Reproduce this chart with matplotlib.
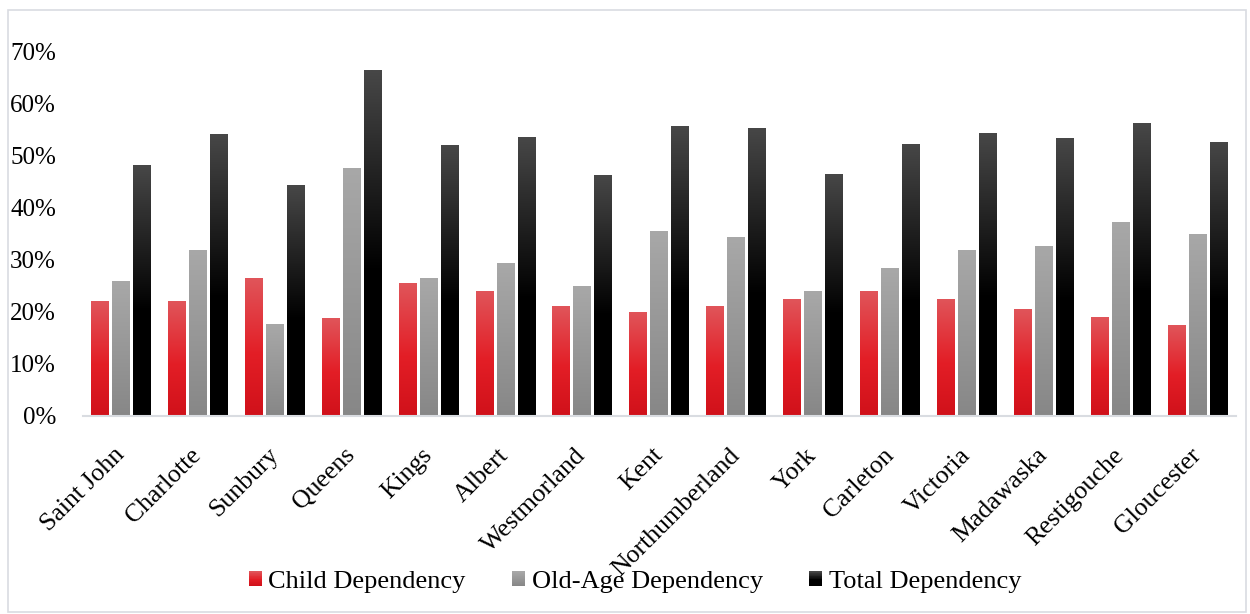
import numpy as np
import matplotlib
matplotlib.use("Agg")
import matplotlib.pyplot as plt
from matplotlib.colors import LinearSegmentedColormap
from matplotlib.patches import Rectangle
from matplotlib.legend_handler import HandlerBase
from matplotlib.ticker import FuncFormatter

plt.rcParams["font.family"] = ["Liberation Serif", "DejaVu Serif"]

# Dependency ratios by county (percent)
counties = ["Saint John", "Charlotte", "Sunbury", "Queens", "Kings", "Albert",
            "Westmorland", "Kent", "Northumberland", "York", "Carleton",
            "Victoria", "Madawaska", "Restigouche", "Gloucester"]
child = [22.0, 22.0, 26.4, 18.8, 25.5, 23.9, 21.0, 19.9, 21.0, 22.4, 23.9,
         22.5, 20.5, 19.0, 17.4]
old_age = [25.9, 31.8, 17.6, 47.7, 26.4, 29.3, 24.9, 35.6, 34.3, 23.9, 28.3,
           31.8, 32.7, 37.3, 35.0]
total = [48.1, 54.1, 44.3, 66.5, 52.0, 53.5, 46.2, 55.6, 55.4, 46.4, 52.3,
         54.4, 53.3, 56.3, 52.7]
series_names = ["Child Dependency", "Old-Age Dependency", "Total Dependency"]

# gradient stops, bottom -> top
red_cm = LinearSegmentedColormap.from_list(
    "red", [(0, "#D0111A"), (0.45, "#E31E26"), (1, "#E0555A")])
gray_cm = LinearSegmentedColormap.from_list(
    "gray", [(0, "#878787"), (1, "#A8A8A8")])
black_cm = LinearSegmentedColormap.from_list(
    "black", [(0, "#000000"), (0.42, "#000000"), (1, "#474747")])
cmaps = [red_cm, gray_cm, black_cm]

grad = np.linspace(0, 1, 256).reshape(-1, 1)


def fill_gradient(ax, bars, cmap):
    for p in bars:
        x0, y0 = p.get_xy()
        w, h = p.get_width(), p.get_height()
        im = ax.imshow(grad, cmap=cmap, origin="lower", aspect="auto",
                       extent=[x0, x0 + w, y0, y0 + h], zorder=2,
                       interpolation="bilinear")
        im.set_clip_path(p)


class GradientHandler(HandlerBase):
    def __init__(self, cmap):
        super().__init__()
        self.cmap = cmap

    def create_artists(self, legend, orig_handle, xdescent, ydescent,
                       width, height, fontsize, trans):
        n = 20
        arts = []
        for i in range(n):
            r = Rectangle((-xdescent, -ydescent + height * i / n), width,
                          height / n + 0.3, facecolor=self.cmap(i / (n - 1)),
                          edgecolor="none", transform=trans)
            arts.append(r)
        return arts


fig = plt.figure(figsize=(12.5, 6.14), dpi=100)
ax = fig.add_axes([0.066, 0.323, 0.923, 0.593])

x = np.arange(len(counties))
w = 0.234
step = 0.273
handles = []
for k, (vals, cm) in enumerate(zip([child, old_age, total], cmaps)):
    bars = ax.bar(x + (k - 1) * step, np.array(vals) / 100, w,
                  color="none", edgecolor="none", zorder=2)
    fill_gradient(ax, bars, cm)
    handles.append(Rectangle((0, 0), 1, 1))

ax.set_xlim(-0.5, len(counties) - 0.5)
ax.set_ylim(0, 0.7)
ax.set_yticks(np.arange(0, 0.71, 0.1))
ax.yaxis.set_major_formatter(FuncFormatter(lambda v, _: f"{v * 100:.0f}%"))
ax.set_xticks(x)
ax.set_xticklabels(counties, rotation=45, ha="right", va="center",
                   rotation_mode="anchor")
ax.tick_params(axis="y", length=0, pad=19, labelsize=18)
ax.tick_params(axis="x", length=0, pad=26, labelsize=18.5)

for side in ["top", "right", "left"]:
    ax.spines[side].set_visible(False)
ax.spines["bottom"].set_color("#D9DCE1")
ax.spines["bottom"].set_linewidth(1.5)
ax.spines["bottom"].set_zorder(3)

fig.legend(handles, series_names, loc="center", ncol=3,
           bbox_to_anchor=(0.508, 1 - 582 / 614), frameon=False, fontsize=19,
           handlelength=0.5, handleheight=0.5, handletextpad=0.25,
           columnspacing=1.75,
           handler_map={h: GradientHandler(cm) for h, cm in zip(handles, cmaps)})

# thin frame around the whole chart
fig.patches.append(Rectangle((0.006, 0.004), 0.991, 0.98, transform=fig.transFigure,
                             fill=False, edgecolor="#D9DCE1", linewidth=1.2))

fig.savefig("out.png", dpi=100)
